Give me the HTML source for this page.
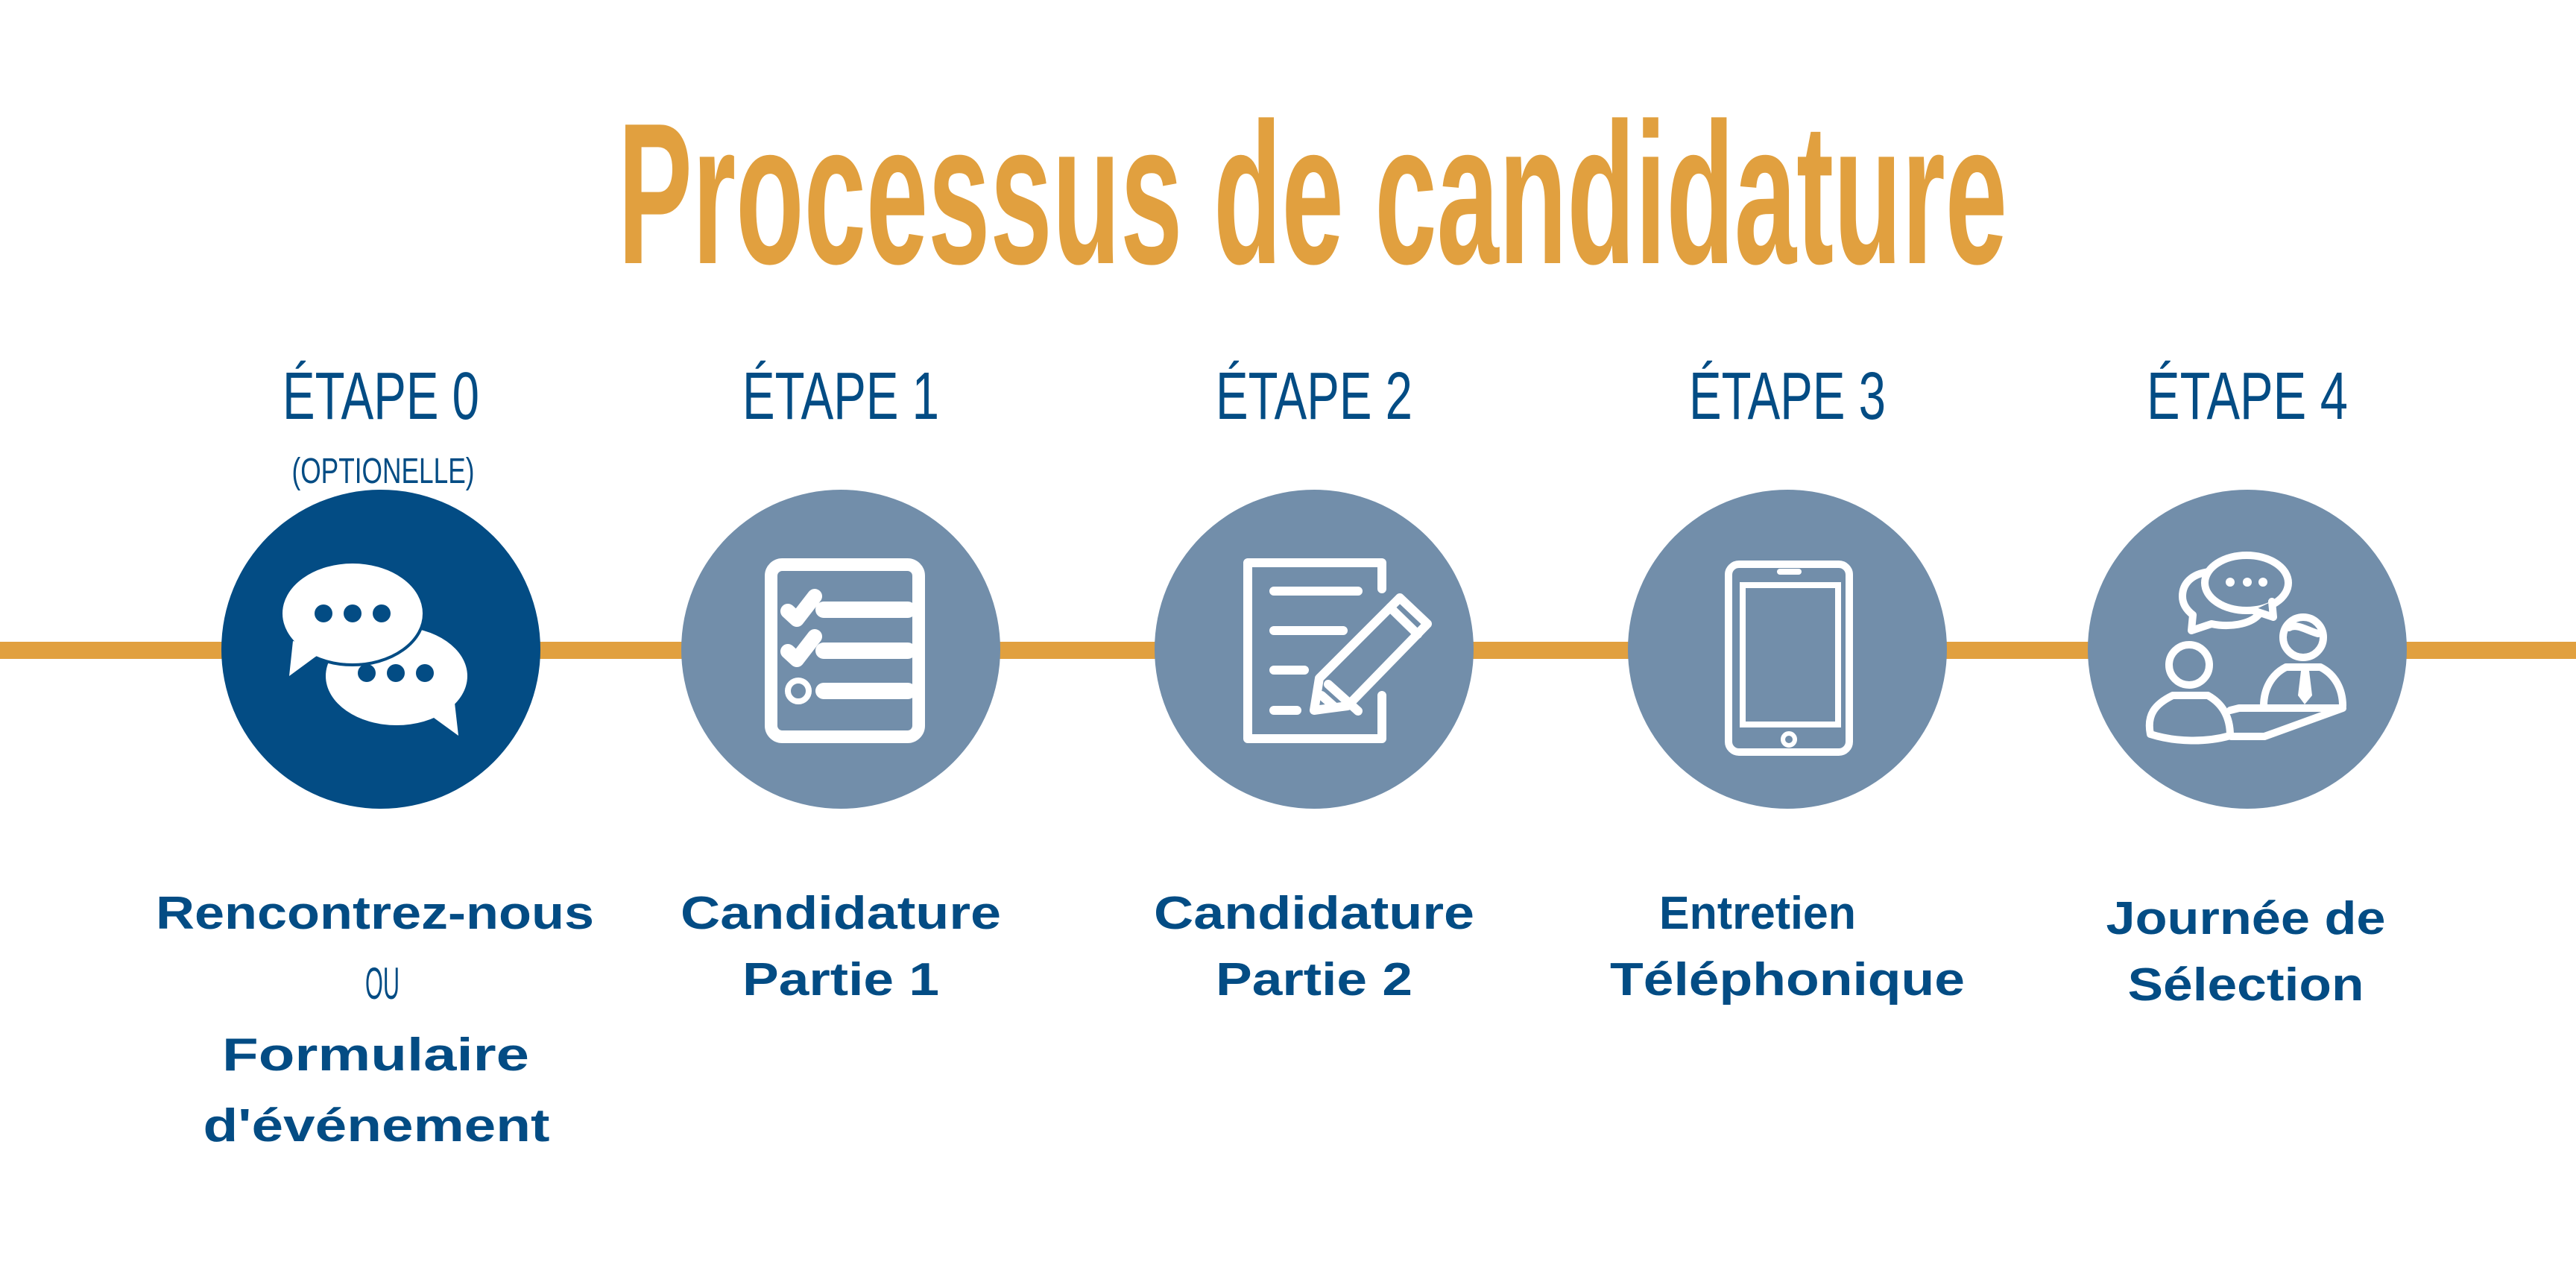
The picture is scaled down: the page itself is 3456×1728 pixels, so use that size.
<!DOCTYPE html>
<html><head><meta charset="utf-8"><style>html,body{margin:0;padding:0;background:#fff}svg{display:block}</style></head><body>
<svg width="3456" height="1728" viewBox="0 0 3456 1728" xmlns="http://www.w3.org/2000/svg">
<rect width="3456" height="1728" fill="#fff"/>
<text x="829" y="353" font-family="Liberation Sans Narrow, Liberation Sans, sans-serif" font-weight="bold" font-size="270" fill="#E1A03F" textLength="1864" lengthAdjust="spacingAndGlyphs">Processus de candidature</text>
<rect x="0" y="861" width="3456" height="23" fill="#E1A03F"/>
<g font-family="Liberation Sans Narrow, Liberation Sans, sans-serif" fill="#034C84" font-size="90" text-anchor="middle">
<text x="511" y="562" textLength="264" lengthAdjust="spacingAndGlyphs">ÉTAPE 0</text>
<text x="1128" y="562" textLength="264" lengthAdjust="spacingAndGlyphs">ÉTAPE 1</text>
<text x="1763" y="562" textLength="264" lengthAdjust="spacingAndGlyphs">ÉTAPE 2</text>
<text x="2398" y="562" textLength="264" lengthAdjust="spacingAndGlyphs">ÉTAPE 3</text>
<text x="3015" y="562" textLength="270" lengthAdjust="spacingAndGlyphs">ÉTAPE 4</text>
<text x="514" y="648" font-size="48" textLength="245" lengthAdjust="spacingAndGlyphs">(OPTIONELLE)</text>
<text x="513" y="1340" font-size="60" textLength="46" lengthAdjust="spacingAndGlyphs">OU</text>
</g>
<circle cx="511" cy="871" r="214" fill="#034C84"/>
<circle cx="1128" cy="871" r="214" fill="#728EAA"/>
<circle cx="1763" cy="871" r="214" fill="#728EAA"/>
<circle cx="2398" cy="871" r="214" fill="#728EAA"/>
<circle cx="3015" cy="871" r="214" fill="#728EAA"/>
<!-- icon 0 -->
<ellipse cx="532" cy="907" rx="95" ry="66" fill="#fff"/>
<polygon points="610,943 615,987 582,963" fill="#fff"/>
<g fill="#034C84"><circle cx="492" cy="903" r="12"/><circle cx="531" cy="903" r="12"/><circle cx="570" cy="903" r="12"/></g>
<ellipse cx="473" cy="823" rx="96" ry="69" fill="#fff" stroke="#034C84" stroke-width="4"/>
<polygon points="393,860 388,907 422,882 440,870" fill="#fff"/>
<g fill="#034C84"><circle cx="434" cy="823" r="12"/><circle cx="473" cy="823" r="12"/><circle cx="512" cy="823" r="12"/></g>
<!-- icon 1 -->
<g fill="none" stroke="#fff" stroke-linecap="round" stroke-linejoin="round">
<rect x="1034.5" y="757.5" width="198" height="231" rx="15" stroke-width="17"/>
<path d="M1105 818H1218M1105 873H1218M1105 927H1218" stroke-width="22"/>
<path d="M1057 820L1069 831L1093 800M1057 874L1069 885L1093 854" stroke-width="20"/>
<circle cx="1071" cy="927" r="14" stroke-width="8"/>
</g>
<!-- icon 2 -->
<g fill="none" stroke="#fff" stroke-width="12" stroke-linecap="round" stroke-linejoin="round">
<path d="M1854 790V755H1674V991H1854V933"/>
<path d="M1709 793H1822M1709 846H1802M1709 899H1750M1709 953H1740"/>
<path d="M1770 910L1878 802L1915 837L1808 947L1763 953Z"/>
<path d="M1865 815L1902 851M1782 918L1822 954M1773 933L1790 948"/>
</g>
<!-- icon 3 -->
<g fill="none" stroke="#fff" stroke-linecap="round">
<rect x="2319" y="757" width="162" height="252" rx="14" stroke-width="10"/>
<rect x="2338" y="785" width="128" height="187" stroke-width="8"/>
<path d="M2388 767H2413" stroke-width="8"/>
<circle cx="2400" cy="992" r="8" stroke-width="6"/>
</g>
<!-- icon 4 -->
<g fill="none" stroke="#fff" stroke-width="10" stroke-linecap="round" stroke-linejoin="round">
<path d="M2964 767C2940 770 2928 783 2928 800C2928 810 2933 818 2942 825L2940 846L2967 837C2990 842 3018 838 3030 825"/>
<ellipse cx="3014" cy="782" rx="56" ry="37" fill="#728EAA"/>
<path d="M3048 807L3050 828L3023 819" fill="#728EAA"/>
<circle cx="2937" cy="892" r="27"/>
<path d="M2885 985C2880 960 2890 945 2915 933H2962C2980 943 2992 960 2992 987C2960 996 2920 996 2885 985Z"/>
<circle cx="3090" cy="855" r="27"/>
<path d="M3071 842C3082 836 3095 846 3110 850"/>
<path d="M3037 947C3037 925 3047 905 3067 895H3113C3133 905 3143 925 3143 947"/>
<path d="M2992 953L3004 950H3143L3038 988H2993"/>
</g>
<g fill="#fff"><circle cx="2992" cy="781" r="6"/><circle cx="3015" cy="781" r="6"/><circle cx="3036" cy="781" r="6"/>
<polygon points="3087,900 3098,900 3102,933 3092,945 3083,933"/></g>
<g font-family="Liberation Sans, sans-serif" font-weight="bold" fill="#034C84" font-size="62" text-anchor="middle">
<text x="503" y="1246" textLength="588" lengthAdjust="spacingAndGlyphs">Rencontrez-nous</text>
<text x="504" y="1436" textLength="412" lengthAdjust="spacingAndGlyphs">Formulaire</text>
<text x="505" y="1531" textLength="465" lengthAdjust="spacingAndGlyphs">d'événement</text>
<text x="1128" y="1246" textLength="430" lengthAdjust="spacingAndGlyphs">Candidature</text>
<text x="1128" y="1335" textLength="264" lengthAdjust="spacingAndGlyphs">Partie 1</text>
<text x="1763" y="1246" textLength="430" lengthAdjust="spacingAndGlyphs">Candidature</text>
<text x="1763" y="1335" textLength="264" lengthAdjust="spacingAndGlyphs">Partie 2</text>
<text x="2358" y="1246" textLength="264" lengthAdjust="spacingAndGlyphs">Entretien</text>
<text x="2398" y="1335" textLength="476" lengthAdjust="spacingAndGlyphs">Téléphonique</text>
<text x="3013" y="1253" textLength="375" lengthAdjust="spacingAndGlyphs">Journée de</text>
<text x="3013" y="1342" textLength="317" lengthAdjust="spacingAndGlyphs">Sélection</text>
</g>
</svg>
</body></html>
